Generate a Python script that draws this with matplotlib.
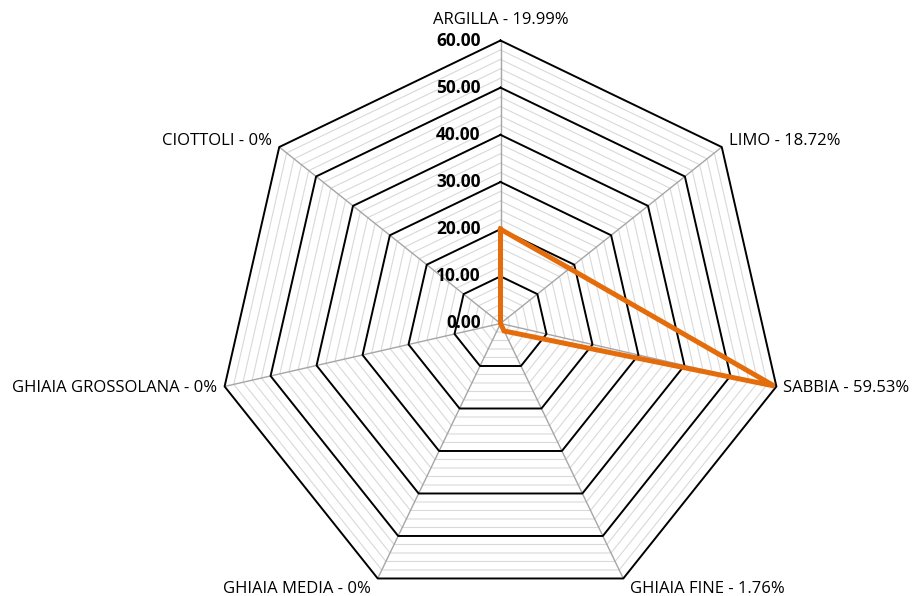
import numpy as np
import matplotlib.pyplot as plt

categories = ["ARGILLA", "LIMO", "SABBIA", "GHIAIA FINE", "GHIAIA MEDIA",
              "GHIAIA GROSSOLANA", "CIOTTOLI"]
values = [19.99, 18.72, 59.53, 1.76, 0, 0, 0]
value_labels = ["19.99%", "18.72%", "59.53%", "1.76%", "0%", "0%", "0%"]
major_ticks = [0, 10, 20, 30, 40, 50, 60]
minor_step = 2
rmax = 60

plt.rcParams['font.family'] = ['Open Sans', 'DejaVu Sans']

W, H = 915, 596
cx, cy, rpx = 500.5, 323.5, 283.0
s = rmax / rpx  # data units per pixel

fig = plt.figure(figsize=(W / 100, H / 100), dpi=100)
ax = fig.add_axes([0, 0, 1, 1])
ax.set_xlim(-cx * s, (W - cx) * s)
ax.set_ylim(-(H - cy) * s, cy * s)
ax.axis('off')

n = len(categories)
ang = np.arange(n) * 2 * np.pi / n


def xy(r):
    r = np.asarray(r, dtype=float)
    return r * np.sin(ang), r * np.cos(ang)


def ring(r, **kw):
    x, y = xy(np.full(n, r))
    ax.plot(np.append(x, x[0]), np.append(y, y[0]), **kw)


# minor grid
for r in np.arange(minor_step, rmax, minor_step):
    if r % 10 != 0:
        ring(r, color='#d9d9d9', lw=0.8, zorder=1)
# spokes
ox, oy = xy(np.full(n, rmax))
for i in range(n):
    ax.plot([0, ox[i]], [0, oy[i]], color='#a6a6a6', lw=1.0, zorder=2)
# major grid
for r in major_ticks[1:]:
    ring(r, color='black', lw=1.4, zorder=3)

# data
x, y = xy(values)
ax.plot(np.append(x, x[0]), np.append(y, y[0]), color='#e46c0a', lw=3.6,
        solid_joinstyle='miter', zorder=5)

# tick labels
for r in major_ticks:
    ax.text(-20 * s, r, f"{r:.2f}", ha='right', va='center',
            fontsize=12.5, fontweight='bold', zorder=6)

# category labels
lx, ly = xy(np.full(n, rmax))
for i, (c, v) in enumerate(zip(categories, value_labels)):
    t = f"{c} - {v}"
    dx, dy = np.sin(ang[i]), np.cos(ang[i])
    px, py = lx[i], ly[i]
    if i == 0:
        ax.text(px, py + 13 * s, t, ha='center', va='bottom', fontsize=12)
    elif abs(dx) > 0.5:
        ha = 'left' if dx > 0 else 'right'
        yoff = 6 * s if dy > 0 else -2 * s
        ax.text(px + np.sign(dx) * 7 * s, py + yoff, t, ha=ha, va='center',
                fontsize=12)
    else:
        ha = 'left' if dx > 0 else 'right'
        ax.text(px + np.sign(dx) * 7 * s, py - 11 * s, t, ha=ha, va='center',
                fontsize=12)

fig.savefig('out.png', dpi=100)
